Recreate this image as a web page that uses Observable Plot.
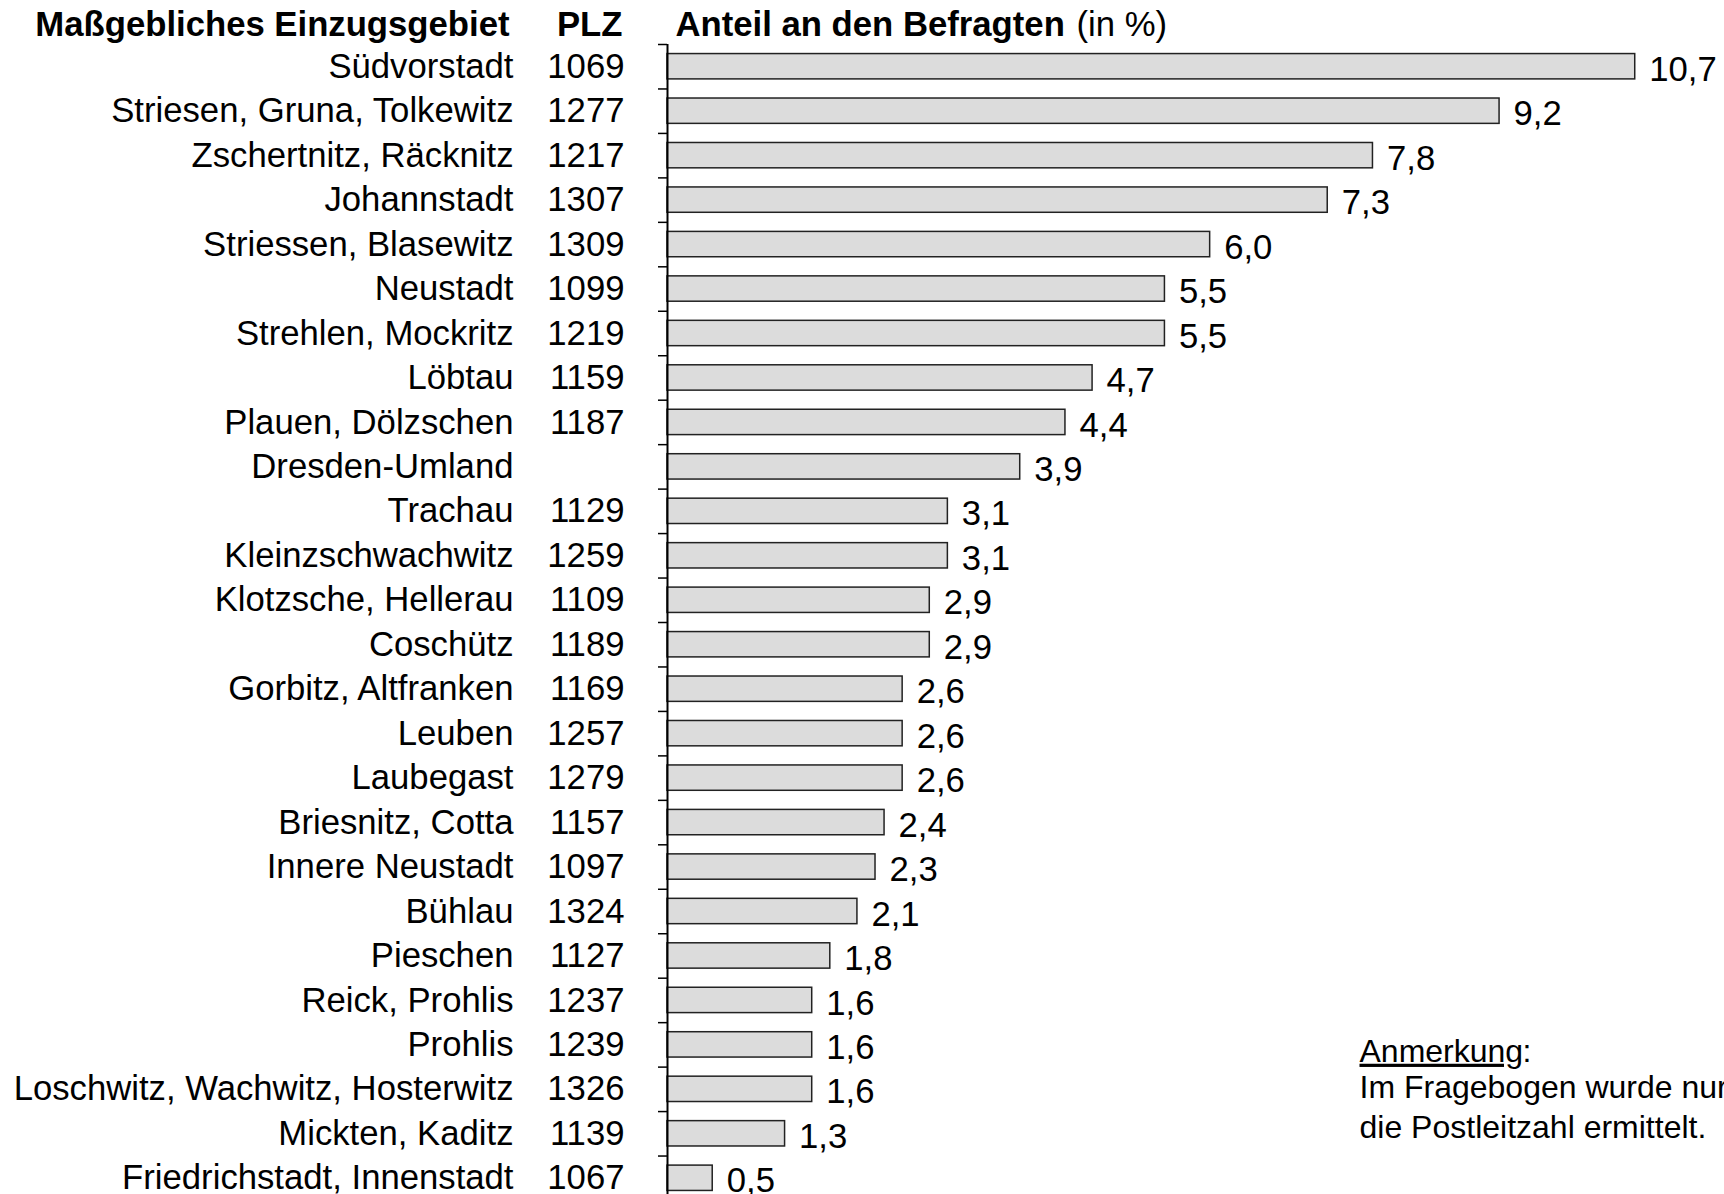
<!DOCTYPE html>
<html>
<head>
<meta charset="utf-8">
<script src="https://cdn.jsdelivr.net/npm/d3@7"></script>
<script src="https://cdn.jsdelivr.net/npm/@observablehq/plot@0.6"></script>
<style>
  html, body { margin: 0; padding: 0; background: #fff; }
  #chart svg { display: block; }
</style>
</head>
<body>
<div id="chart"></div>
<script>
const names = ["Südvorstadt","Striesen, Gruna, Tolkewitz","Zschertnitz, Räcknitz","Johannstadt","Striessen, Blasewitz","Neustadt","Strehlen, Mockritz","Löbtau","Plauen, Dölzschen","Dresden-Umland","Trachau","Kleinzschwachwitz","Klotzsche, Hellerau","Coschütz","Gorbitz, Altfranken","Leuben","Laubegast","Briesnitz, Cotta","Innere Neustadt","Bühlau","Pieschen","Reick, Prohlis","Prohlis","Loschwitz, Wachwitz, Hosterwitz","Mickten, Kaditz","Friedrichstadt, Innenstadt"];
const plz = ["1069","1277","1217","1307","1309","1099","1219","1159","1187","","1129","1259","1109","1189","1169","1257","1279","1157","1097","1324","1127","1237","1239","1326","1139","1067"];
const values = [10.7,9.2,7.8,7.3,6.0,5.5,5.5,4.7,4.4,3.9,3.1,3.1,2.9,2.9,2.6,2.6,2.6,2.4,2.3,2.1,1.8,1.6,1.6,1.6,1.3,0.5];

const headerName = "Maßgebliches Einzugsgebiet";
const headerPlz = "PLZ";
const headerValue = "Anteil an den Befragten";
const headerUnit = "(in %)";
const noteTitle = "Anmerkung";
const noteLines = ["Im Fragebogen wurde nur", "die Postleitzahl ermittelt."];

const data = names.map((n, i) => ({name: n, plz: plz[i], value: values[i]}));
const fmt = v => d3.format(".1f")(v).replace(".", ",");

const step = (1200 - 44) / names.length;
const FONT = "'Liberation Sans', Arial, Helvetica, sans-serif";

const chart = Plot.plot({
  width: 1724,
  height: 1194,
  marginLeft: 667,
  marginRight: 0,
  marginTop: 44,
  marginBottom: 0,
  style: {fontFamily: FONT, fontSize: "34.7px", color: "#000", background: "#fff", overflow: "hidden"},
  x: {domain: [0, 11.687], axis: null},
  y: {domain: names, range: [44, 1200], paddingInner: 0.43, paddingOuter: 0.215, round: false, axis: null},
  marks: [
    Plot.barX(data, {x: "value", y: "name", fill: "#dcdcdc", stroke: "#222", strokeWidth: 1.5}),
    Plot.ruleY(data, {y: "name", x1: 0, x2: 0, insetLeft: -9, dy: -step / 2, stroke: "#000", strokeWidth: 1.5}),
    Plot.ruleX([0], {stroke: "#000", strokeWidth: 2}),
    Plot.text(data, {y: "name", text: "name", frameAnchor: "left", textAnchor: "end", dx: -154, fill: "#000"}),
    Plot.text(data, {filter: d => d.plz, y: "name", text: "plz", frameAnchor: "left", textAnchor: "end", dx: -43, fill: "#000"}),
    Plot.text(data, {x: "value", y: "name", text: d => fmt(d.value), textAnchor: "start", dx: 14, dy: 3, fill: "#000"}),
    Plot.text([headerName], {text: d => d, frameAnchor: "top-left", lineAnchor: "middle", textAnchor: "end", dx: -158, dy: -20, fontWeight: "bold", fill: "#000"}),
    Plot.text([headerPlz], {text: d => d, frameAnchor: "top-left", lineAnchor: "middle", textAnchor: "end", dx: -45, dy: -20, fontWeight: "bold", fill: "#000"}),
    Plot.text([headerValue], {text: d => d, frameAnchor: "top-left", lineAnchor: "middle", textAnchor: "start", dx: 8, dy: -20, fontWeight: "bold", fill: "#000"}),
    Plot.text([headerUnit], {text: d => d, frameAnchor: "top-left", lineAnchor: "middle", textAnchor: "start", dx: 409, dy: -20, fill: "#000"}),
    Plot.text([noteTitle], {text: d => d, frameAnchor: "top-left", lineAnchor: "middle", textAnchor: "start", dx: 692, dy: 1007, fontSize: 32, fill: "#000"}),
    Plot.text([":"], {text: d => d, frameAnchor: "top-left", lineAnchor: "middle", textAnchor: "start", dx: 855, dy: 1007, fontSize: 32, fill: "#000"}),
    Plot.text([noteLines.join("\n")], {text: d => d, frameAnchor: "top-left", textAnchor: "start", lineAnchor: "middle", lineHeight: 1.25, dx: 692, dy: 1061, fontSize: 32, fill: "#000"})
  ]
});

chart.querySelectorAll("text").forEach(t => {
  if (t.textContent === noteTitle) t.style.textDecoration = "underline";
});

document.getElementById("chart").appendChild(chart);
</script>
</body>
</html>
